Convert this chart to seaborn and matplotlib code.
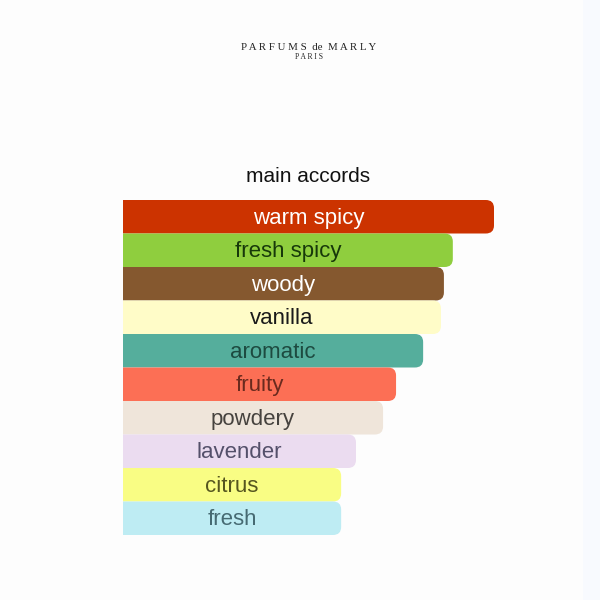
import matplotlib
matplotlib.use("Agg")
import numpy as np
import pandas as pd
import matplotlib.pyplot as plt
import seaborn as sns
from matplotlib.path import Path
from matplotlib.patches import PathPatch, Rectangle

# data (relative bar length, top bar = 100)
accords = ["warm spicy", "fresh spicy", "woody", "vanilla", "aromatic",
           "fruity", "powdery", "lavender", "citrus", "fresh"]
strength = [100, 88.9, 86.5, 85.7, 80.9, 73.6, 70.1, 62.8, 58.8, 58.8]
bar_colors = ["#cc3300", "#8fce3e", "#85582f", "#fffcc8", "#55ae9c",
              "#fc6f55", "#efe5da", "#ebdcf0", "#f9fd84", "#beecf3"]
text_colors = ["#ffffff", "#17380a", "#ffffff", "#1a1a1a", "#1d4a40",
               "#6a2a1e", "#46423e", "#54506a", "#55551f", "#466a72"]

df = pd.DataFrame({"accord": accords, "strength": strength})

sns.set_theme(style="white")
plt.rcParams['font.family'] = ['Liberation Sans', 'DejaVu Sans']

fig = plt.figure(figsize=(6, 6), dpi=100)
fig.patch.set_facecolor("#fdfdfd")
# faint bluish strip on the right edge
fig.add_artist(Rectangle((583/600, 0), 17/600, 1, transform=fig.transFigure,
                         facecolor="#f8fafe", edgecolor="none", zorder=0))

ax = fig.add_axes([123/600, 1 - 535/600, (494 - 123)/600, 335/600])
ax.set_facecolor("none")
sns.barplot(data=df, x="strength", y="accord", hue="accord",
            palette=dict(zip(accords, bar_colors)), orient="h",
            width=1.0, saturation=1, legend=False, ax=ax)
ax.set_xlim(0, 100)

# swap the square bars for ones rounded on the right side
rx, ry = 2.2, 0.24
for p in list(ax.patches):
    x0, y0 = p.get_x(), p.get_y()
    x1, y1 = x0 + p.get_width(), y0 + p.get_height()
    lo, hi = min(y0, y1), max(y0, y1)
    verts = [(x0, lo), (x1 - rx, lo), (x1, lo), (x1, lo + ry),
             (x1, hi - ry), (x1, hi), (x1 - rx, hi), (x0, hi), (x0, lo)]
    codes = [Path.MOVETO, Path.LINETO, Path.CURVE3, Path.CURVE3,
             Path.LINETO, Path.CURVE3, Path.CURVE3, Path.LINETO, Path.CLOSEPOLY]
    ax.add_patch(PathPatch(Path(verts, codes), facecolor=p.get_facecolor(),
                           edgecolor="none", linewidth=0))
    p.remove()

for i, (name, val) in enumerate(zip(accords, strength)):
    ax.text(val / 2, i + 0.05, name, ha="center", va="center", fontsize=16,
            color=text_colors[i])

ax.set_xlabel("")
ax.set_ylabel("")
ax.set_xticks([])
ax.set_yticks([])
sns.despine(ax=ax, left=True, bottom=True)

fig.text(308/600, 1 - 176/600, "main accords", ha="center", va="center",
         fontsize=15, color="#111111")
fig.text(309/600, 1 - 47/600, "P A R F U M S  de  M A R L Y", ha="center",
         va="center", fontsize=7.8, color="#222222", family="Liberation Serif")
fig.text(309/600, 1 - 57/600, "P A R I S", ha="center", va="center",
         fontsize=5.5, color="#222222", family="Liberation Serif")

fig.savefig("out.png", dpi=100, facecolor=fig.get_facecolor())
